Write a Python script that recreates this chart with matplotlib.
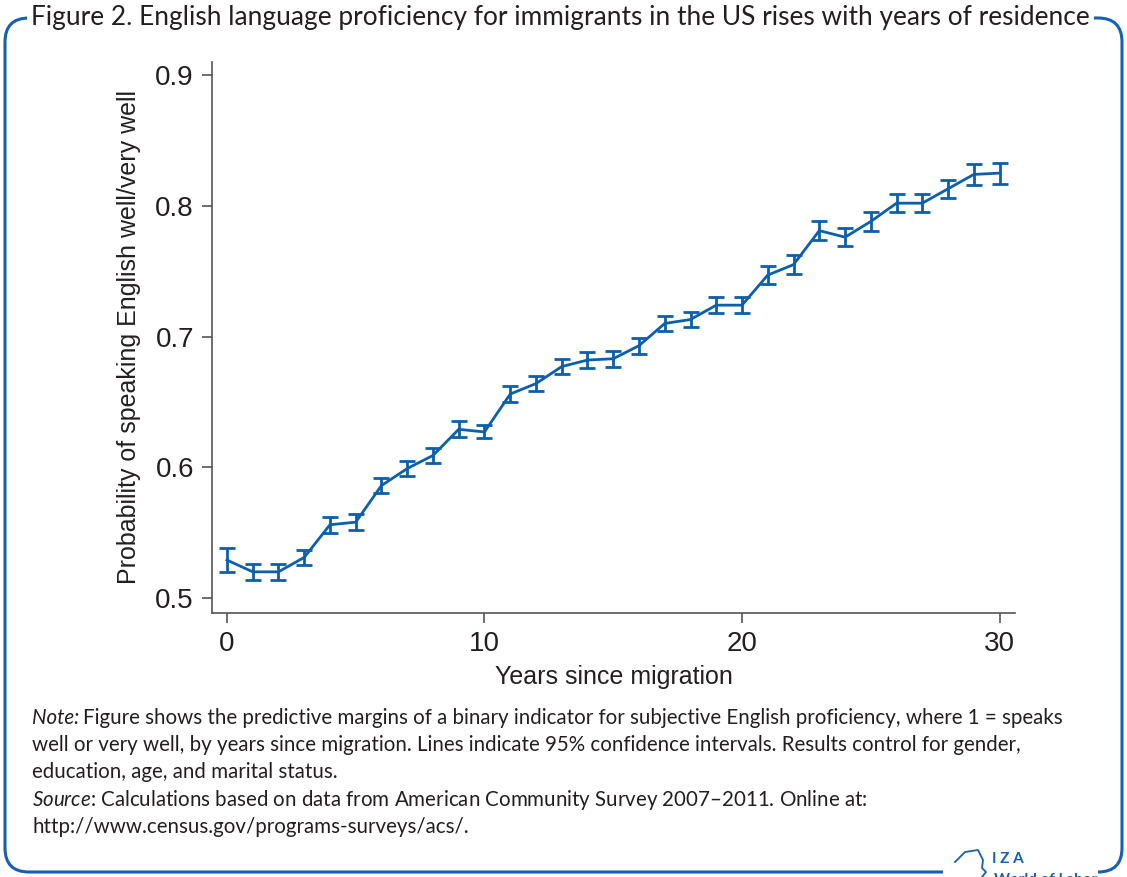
import matplotlib
matplotlib.use("Agg")
import matplotlib.pyplot as plt
from matplotlib.path import Path
from matplotlib.patches import PathPatch
import numpy as np

years = list(range(0, 31))
prob = [0.529, 0.520, 0.520, 0.531, 0.556, 0.558, 0.586, 0.599, 0.609, 0.629,
        0.627, 0.656, 0.664, 0.677, 0.682, 0.683, 0.693, 0.710, 0.713, 0.724,
        0.724, 0.747, 0.755, 0.781, 0.776, 0.788, 0.802, 0.802, 0.813, 0.824,
        0.825]
half_ci = [0.009, 0.006, 0.006, 0.006, 0.006, 0.006, 0.006, 0.006, 0.006, 0.006,
           0.005, 0.006, 0.006, 0.006, 0.006, 0.006, 0.006, 0.006, 0.006, 0.006,
           0.006, 0.007, 0.007, 0.007, 0.007, 0.007, 0.007, 0.007, 0.007, 0.008,
           0.008]
yticks = [0.5, 0.6, 0.7, 0.8, 0.9]
xticks = [0, 10, 20, 30]

title = "Figure 2. English language proficiency for immigrants in the US rises with years of residence"
xlabel = "Years since migration"
ylabel = "Probability of speaking English well/very well"

BLUE = "#0b5fad"
FRAME = "#1560b0"
TXT = "#231f20"

plt.rcParams['mathtext.fontset'] = 'custom'
plt.rcParams['mathtext.it'] = 'Lato:italic'
plt.rcParams['mathtext.rm'] = 'Lato'

W, H = 1127, 877
fig = plt.figure(figsize=(W / 100, H / 100), dpi=100)

def fx(x):
    return x / W

def fy(y):
    return 1 - y / H

ax = fig.add_axes([fx(212), fy(613), fx(1015) - fx(212), fy(62) - fy(613)])
ax.errorbar(years, prob, yerr=half_ci, color=BLUE, lw=2.0, capsize=5.5,
            capthick=2.0, elinewidth=2.0)
ax.set_xlim(-0.58, 30.6)
ax.set_ylim(0.4885, 0.91)
ax.set_xticks(xticks)
ax.set_yticks(yticks)
ax.set_xticklabels([str(t) for t in xticks])
ax.set_yticklabels([f"{t:.1f}" for t in yticks])
for s in ["top", "right"]:
    ax.spines[s].set_visible(False)
for s in ["left", "bottom"]:
    ax.spines[s].set_color("#555555")
    ax.spines[s].set_linewidth(1.2)
ax.tick_params(axis="both", direction="out", length=7, width=1.2, color="#555555",
               labelsize=20, labelcolor=TXT, pad=6)
for lab in ax.get_xticklabels() + ax.get_yticklabels():
    lab.set_family("Liberation Sans")
ax.set_xlabel(xlabel, fontsize=18, color=TXT, family="Liberation Sans", labelpad=6)
ax.set_ylabel(ylabel, fontsize=18, color=TXT, family="Liberation Sans", labelpad=10)

# Frame: rounded rectangle
x0, x1, y0, y1, r = 5, 1122, 18, 872, 24
verts = [
    (fx(943), fy(y1)), (fx(x0 + r), fy(y1)),
    (fx(x0), fy(y1)), (fx(x0), fy(y1 - r)),
    (fx(x0), fy(y0 + r)),
    (fx(x0), fy(y0)), (fx(x0 + r), fy(y0)),
    (fx(x1 - r), fy(y0)),
    (fx(x1), fy(y0)), (fx(x1), fy(y0 + r)),
    (fx(x1), fy(y1 - r)),
    (fx(x1), fy(y1)), (fx(x1 - r), fy(y1)),
]
codes = [Path.MOVETO, Path.LINETO, Path.CURVE3, Path.CURVE3, Path.LINETO,
         Path.CURVE3, Path.CURVE3, Path.LINETO, Path.CURVE3, Path.CURVE3,
         Path.LINETO, Path.CURVE3, Path.CURVE3]
fig.add_artist(PathPatch(Path(verts, codes), transform=fig.transFigure,
                         fill=False, edgecolor=FRAME, lw=2.2))

# Title with white background over frame
fig.text(fx(31), fy(18), title, fontsize=18.9, color=TXT, family="Lato",
         ha="left", va="center",
         bbox=dict(facecolor="white", edgecolor="none", pad=3))

# Notes
note_fs = 14.8
fig.text(fx(32), fy(718), "Note:", fontsize=note_fs, color=TXT, family="Lato",
         style="italic", ha="left", va="center")
lines = [
    (83, 718, "Figure shows the predictive margins of a binary indicator for subjective English proficiency, where 1 = speaks"),
    (32, 745, "well or very well, by years since migration. Lines indicate 95% confidence intervals. Results control for gender,"),
    (32, 772, "education, age, and marital status."),
    (32, 800, r"$\it{Source}$: Calculations based on data from American Community Survey 2007–2011. Online at:"),
    (32, 827, "http://www.census.gov/programs-surveys/acs/."),
]
for xx, yy, t in lines:
    fig.text(fx(xx), fy(yy), t, fontsize=note_fs, color=TXT, family="Lato",
             ha="left", va="center")

# IZA logo
head = [(955, 862), (965, 852), (978, 850), (983, 860), (982, 868), (986, 872),
        (982, 877)]
hx = [fx(p[0]) for p in head]
hy = [fy(p[1]) for p in head]
fig.add_artist(plt.Line2D(hx, hy, transform=fig.transFigure, color=FRAME, lw=1.3))
fig.text(fx(992), fy(859), "I Z A", fontsize=11, color=FRAME, family="Lato",
         weight="bold", ha="left", va="center")
fig.text(fx(994), fy(880), "World of Labor", fontsize=11, color=FRAME,
         family="Lato", weight="bold", ha="left", va="center")

fig.savefig("out.png", dpi=100, facecolor="white")
